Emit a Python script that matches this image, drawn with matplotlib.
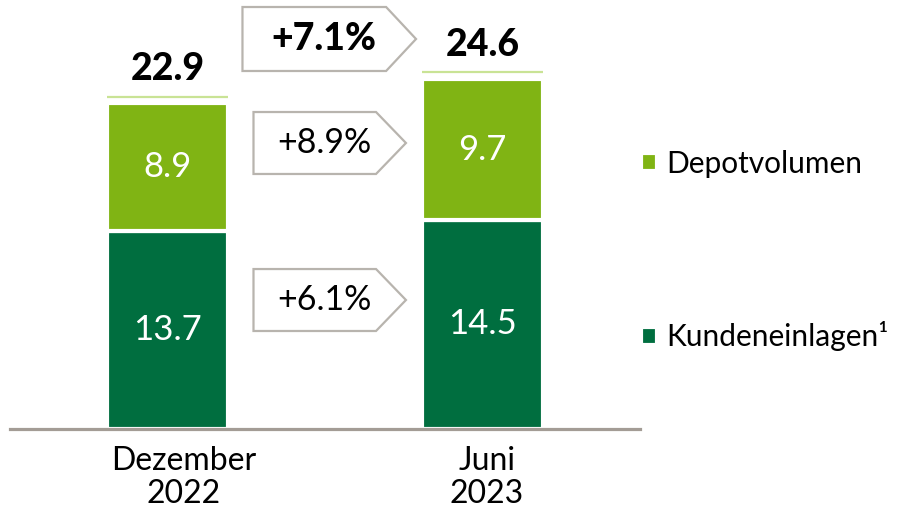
import numpy as np
import matplotlib
matplotlib.use("Agg")
import matplotlib.pyplot as plt
from matplotlib.patches import Polygon

# ================= DADOS =================
categories = ["Dezember\n2022", "Juni\n2023"]
kundeneinlagen = [13.7, 14.5]
depotvolumen = [8.9, 9.7]
totals = [22.9, 24.6]
growth_labels = ["+7.1%", "+8.9%", "+6.1%"]

DARK = "#006e3f"
LIGHT = "#80b414"
PALE = "#c9e395"
GRAY = "#a39c95"
BOX_EDGE = "#b8b4ae"

plt.rcParams["font.family"] = ["Lato", "DejaVu Sans"]

fig = plt.figure(figsize=(8.99, 5.07), dpi=100)
ax = fig.add_axes([10 / 899, 78 / 507, 630 / 899, 429 / 507])

x = np.arange(len(categories))
w = 0.387
bottom = np.array(kundeneinlagen)
ax.bar(x, kundeneinlagen, w, color=DARK, edgecolor="white", linewidth=3,
       label="Kundeneinlagen¹")
ax.bar(x, depotvolumen, w, bottom=bottom, color=LIGHT, edgecolor="white",
       linewidth=3, label="Depotvolumen")

# linha fina do total + rótulo
for xi, t in zip(x, totals):
    ax.hlines(t + 0.1, xi - w / 2 + 0.003, xi + w / 2 - 0.003, color=PALE,
              linewidth=1.6, zorder=3)
    ax.text(xi, t + 2.0, f"{t:.1f}", ha="center", va="center",
            fontsize=27, fontweight="black", color="black")

for xi, k, d in zip(x, kundeneinlagen, depotvolumen):
    ax.text(xi, k / 2, f"{k:.1f}", ha="center", va="center", fontsize=25,
            color="white")
    ax.text(xi, k + d / 2, f"{d:.1f}", ha="center", va="center", fontsize=25,
            color="white")

# caixas de seta (crescimento)
def arrow_box(x0, x1, xt, yc, h, text, bold=False, size=24.5):
    poly = Polygon([(x0, yc - h / 2), (x1, yc - h / 2), (xt, yc),
                    (x1, yc + h / 2), (x0, yc + h / 2)], closed=True,
                   facecolor="white", edgecolor=BOX_EDGE, linewidth=1.6,
                   clip_on=False, zorder=3)
    ax.add_patch(poly)
    ax.text((x0 + xt) / 2 - 0.017, yc, text, ha="center", va="center",
            fontsize=size, fontweight="black" if bold else "normal",
            color="black", zorder=4)

arrow_box(0.238, 0.694, 0.789, 27.0, 4.43, growth_labels[0], bold=True, size=27)
arrow_box(0.273, 0.662, 0.757, 19.8, 4.29, growth_labels[1])
arrow_box(0.273, 0.662, 0.757, 8.93, 4.29, growth_labels[2])

ax.set_xlim(-0.5, 1.5)
ax.set_ylim(0, 29.7)
for s in ["top", "right", "left"]:
    ax.spines[s].set_visible(False)
ax.spines["bottom"].set_color(GRAY)
ax.spines["bottom"].set_linewidth(2.3)
ax.set_yticks([])
ax.set_xticks([])

# rótulos das categorias (levemente deslocados como no original)
label_shift = [0.052, 0.014]
for xi, cat, dx in zip(x, categories, label_shift):
    ax.text(xi + dx, -0.04, cat, transform=ax.get_xaxis_transform(),
            ha="center", va="top", fontsize=23, linespacing=1.1)

handles, labels = ax.get_legend_handles_labels()
fig.legend(handles[::-1], labels[::-1], loc="upper left",
           bbox_to_anchor=(641 / 899, 1 - 150 / 507), frameon=False,
           fontsize=21.5, labelspacing=4.8, handlelength=0.55, handleheight=0.55,
           handletextpad=0.3, borderpad=0, borderaxespad=0)

fig.savefig("out.png", dpi=100)
